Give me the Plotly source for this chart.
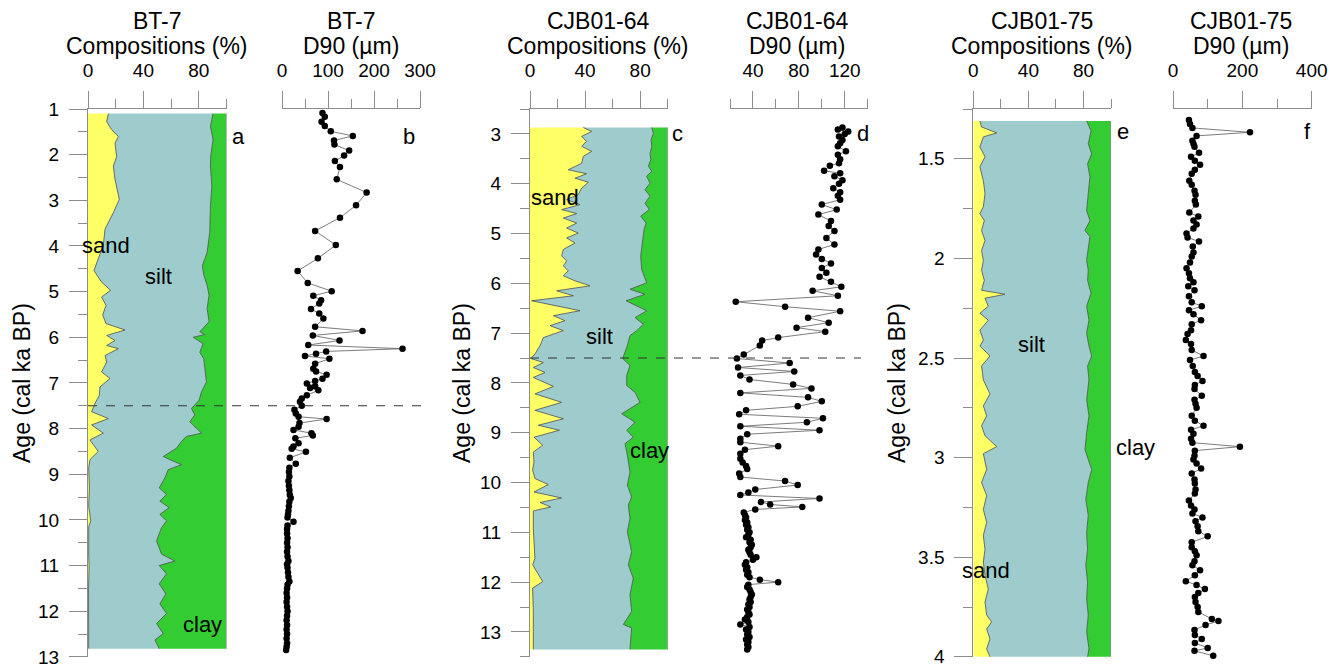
import plotly.graph_objects as go

# ---------------- DATA ----------------
# BT-7 composition: sand (%) boundary and cumulative sand+silt (%) boundary
bt7_sand_age = [1.1, 1.28, 1.45, 1.6, 1.75, 2.04, 2.25, 2.54, 2.98, 3.27, 3.63, 3.99, 4.28, 4.54, 4.79,
                4.97, 5.12, 5.3, 5.51, 5.7, 5.84, 5.96, 6.07, 6.18, 6.25, 6.4, 6.54, 6.76, 6.9, 7.09,
                7.27, 7.45, 7.63, 7.78, 7.92, 8.1, 8.25, 8.36, 8.5, 8.68, 8.86, 9.3, 9.7, 10.02, 10.15,
                10.8, 11.0, 11.5, 12.0, 12.3, 12.5, 12.82]
bt7_sand = [14.7, 13.5, 17, 21.9, 19.5, 20.7, 18.3, 19.5, 22.6, 18.3, 12.3, 11, 7.4, 4.3, 9.8,
            16.3, 9.8, 13, 10.6, 13, 26.7, 13.5, 19.5, 13.5, 21.9, 12.3, 13.5, 9.8, 15.9, 8.6,
            8.2, 5, 2.6, 14.7, 2.6, 11, 1.4, 3.8, 7.4, 1.4, 0.5, 1.0, 0.5, 2.0, 0.5,
            0.5, 0.8, 0.4, 0.5, 0.9, 0.5, 0.5]
bt7_cum_age = [1.1, 1.38, 1.67, 2.04, 2.25, 2.69, 3.12, 3.7, 4.14, 4.43, 4.64, 4.86, 5.08, 5.37, 5.66,
               5.88, 5.94, 6.0, 6.14, 6.33, 6.47, 6.69, 6.98, 7.2, 7.38, 7.56, 7.7, 7.85, 7.99, 8.1,
               8.17, 8.28, 8.43, 8.61, 8.68, 8.79, 8.9, 9.08, 9.3, 9.44, 9.59, 9.73, 9.88, 10.02,
               10.17, 10.46, 10.75, 10.9, 11.0, 11.18, 11.4, 11.62, 11.84, 12.05, 12.27, 12.49,
               12.63, 12.82]
bt7_sand_silt = [90.3, 88.4, 90.3, 88.6, 88.4, 89.4, 88.4, 87.9, 86, 82.6, 83.6, 86, 87.4, 86, 87.4,
                 80.7, 84.3, 75.9, 83.1, 80.7, 83.6, 84.3, 85.5, 81.9, 80.2, 74.7, 77.1, 73.5, 77.8, 81.9,
                 71.1, 67.5, 63.9, 54.3, 59.1, 67.5, 57.9, 55.5, 51.4, 56.7, 51.9, 58.6, 51.9, 56.7,
                 53.1, 49.5, 53.1, 62.7, 51.4, 56.7, 51.4, 56.2, 51.9, 56.7, 49.5, 54.3,
                 48.3, 51.4]
# BT-7 D90 (um)
bt7_d90_age = [1.09, 1.17, 1.28, 1.37, 1.49, 1.59, 1.69, 1.78, 1.91, 2.02, 2.14, 2.27, 2.54, 2.83, 3.11,
               3.38, 3.67, 3.98, 4.27, 4.55, 4.81, 4.99, 5.09, 5.19, 5.26, 5.38, 5.48, 5.59, 5.77, 5.86,
               5.96, 6.07, 6.17, 6.25, 6.31, 6.36, 6.41, 6.47, 6.58, 6.69, 6.75, 6.82, 6.91, 6.96, 7.01,
               7.07, 7.11, 7.16, 7.27, 7.34, 7.41, 7.5, 7.59, 7.67, 7.74, 7.79, 7.88, 7.96, 8.03, 8.1,
               8.15, 8.21, 8.32, 8.39, 8.44, 8.51, 8.64, 8.77, 8.86, 8.95, 9.05, 9.15, 9.25, 9.35, 9.45,
               9.52, 9.6, 9.7, 9.8, 9.88, 9.95, 10.04, 10.12, 10.2, 10.3, 10.4, 10.5, 10.6, 10.7, 10.8,
               10.9, 10.97, 11.05, 11.15, 11.25, 11.35, 11.42, 11.5, 11.6, 11.7, 11.8, 11.9, 12.0, 12.1,
               12.2, 12.3, 12.4, 12.5, 12.6, 12.7, 12.78, 12.85]
bt7_d90 = [88, 93, 86, 93, 106, 154, 113, 114, 146, 135, 115, 126, 119, 184, 161,
           126, 72, 117, 78, 34, 56, 108, 68, 85, 81, 63, 81, 90, 72, 175,
           67, 125, 57, 262, 96, 74, 50, 103, 72, 68, 74, 97, 88, 72, 54,
           72, 61, 79, 54, 43, 39, 43, 27, 30, 36, 97, 38, 36, 25, 64,
           67, 29, 36, 25, 21, 52, 17, 30, 16, 15, 16, 14, 15, 16, 17,
           19, 16, 15, 14, 13, 12, 25, 12, 11, 11, 12, 11, 12, 11, 12,
           14, 11, 12, 13, 14, 16, 12, 11, 10, 11, 10, 11, 12, 11,
           10, 11, 10, 11, 10, 11, 10, 9]

# CJB01-64 composition
c64_sand_age = [2.87, 2.95, 3.05, 3.15, 3.25, 3.35, 3.45, 3.59, 3.72, 3.8, 3.89, 3.97, 4.09, 4.22, 4.32,
                4.42, 4.52, 4.6, 4.69, 4.79, 4.89, 4.99, 5.09, 5.19, 5.32, 5.45, 5.55, 5.65, 5.75, 5.85,
                5.95, 6.05, 6.15, 6.25, 6.35, 6.45, 6.55, 6.65, 6.75, 6.85, 6.95, 7.09, 7.25, 7.42, 7.51,
                7.59, 7.69, 7.79, 7.89, 8.07, 8.22, 8.39, 8.55, 8.72, 8.85, 8.95, 9.09, 9.25, 9.39, 9.59,
                9.75, 9.92, 10.04, 10.19, 10.31, 10.4, 10.49, 10.57, 10.92, 11.52, 11.65, 11.99, 12.12,
                12.59, 13.35]
c64_sand = [38.7, 44.8, 37.5, 41, 37.5, 44.8, 38.7, 37.5, 27.8, 41, 32.7, 42.4, 37.5, 35, 26.6,
            36.3, 23, 33.9, 24.2, 33.9, 26.6, 35, 26.6, 32.7, 24.2, 23, 26.6, 24.2, 27.8, 24.2,
            32.7, 43.6, 19.4, 31.5, 1.2, 19.4, 36.3, 17, 25.4, 14.5, 24.2, 9.7, 7.3, 3.6, 0.5,
            9.7, 2.4, 10.9, 2.4, 17, 3.6, 23, 3.6, 24.2, 6, 21.3, 2.9, 9.2, 2.4, 2.9,
            1.9, 3.6, 13.3, 2.9, 23, 7.3, 15, 2.4, 2.4, 3.6, 1.9, 9.2, 1.9,
            2.4, 2.4]
c64_cum_age = [2.87, 2.99, 3.12, 3.25, 3.39, 3.52, 3.65, 3.75, 3.85, 3.99, 4.12, 4.25, 4.39, 4.52, 4.65,
               4.79, 4.92, 5.19, 5.45, 5.72, 5.99, 6.12, 6.22, 6.35, 6.45, 6.55, 6.69, 6.82, 6.95, 7.05,
               7.25, 7.51, 7.65, 7.85, 8.05, 8.19, 8.39, 8.62, 8.79, 8.95, 9.09, 9.22, 9.45, 9.79, 10.05,
               10.29, 10.45, 10.72, 10.99, 11.39, 11.65, 11.92, 12.25, 12.59, 12.85, 12.92, 13.35]
c64_sand_silt = [88.4, 89.6, 87.9, 88.4, 87.2, 87.7, 86, 88.4, 84.7, 87.2, 83.5, 87.2, 83.5, 86.7, 80.4,
                 84.3, 82.8, 81.8, 80.4, 81.1, 84.7, 72.6, 83.5, 69.7, 77.5, 84.7, 76.3, 82.3, 77.5, 72.6,
                 70.7, 67.3, 72.6, 70.2, 70.2, 76.3, 79.9, 66.6, 76.3, 70.2, 75, 69, 70.7, 72.6, 70.7,
                 73.8, 71.4, 72.6, 70.7, 73.8, 71.4, 75, 72.6, 73.8, 67.8, 73.8, 72.6]
# CJB01-64 D90 (um)
c64_d90_age = [2.87, 2.91, 2.95, 3.0, 3.05, 3.12, 3.19, 3.25, 3.35, 3.42, 3.51, 3.59, 3.64, 3.74, 3.79,
               3.85, 3.93, 4.0, 4.09, 4.17, 4.24, 4.32, 4.42, 4.52, 4.62, 4.75, 4.85, 4.95, 5.09, 5.22,
               5.32, 5.42, 5.51, 5.6, 5.69, 5.79, 5.87, 5.97, 6.07, 6.15, 6.25, 6.37, 6.47, 6.56, 6.69,
               6.79, 6.89, 6.97, 7.09, 7.15, 7.25, 7.43, 7.51, 7.6, 7.69, 7.77, 7.85, 7.93, 8.03, 8.11,
               8.2, 8.29, 8.37, 8.47, 8.55, 8.63, 8.71, 8.79, 8.87, 8.95, 9.03, 9.12, 9.19, 9.27, 9.34,
               9.42, 9.52, 9.6, 9.67, 9.73, 9.82, 9.89, 9.97, 10.05, 10.14, 10.2, 10.25, 10.32, 10.39,
               10.44, 10.49, 10.54, 10.6, 10.65, 10.7, 10.75, 10.8, 10.85, 10.9, 10.95, 11.0, 11.05,
               11.1, 11.15, 11.2, 11.25, 11.3, 11.35, 11.4, 11.45, 11.5, 11.55, 11.6, 11.65, 11.7,
               11.75, 11.8, 11.85, 11.9, 11.95, 12.0, 12.05, 12.1, 12.15, 12.2, 12.25, 12.3, 12.35,
               12.4, 12.45, 12.5, 12.55, 12.6, 12.65, 12.7, 12.75, 12.8, 12.85, 12.9, 12.95, 13.0,
               13.05, 13.1, 13.15, 13.2, 13.25, 13.3, 13.35]
c64_d90 = [118, 114, 123, 120, 115, 118, 116, 114, 121, 114, 116, 115, 107, 102, 116,
           111, 118, 115, 110, 116, 114, 116, 100, 113, 97, 108, 106, 111, 104, 111,
           97, 95, 100, 108, 100, 104, 98, 108, 117, 92, 114, 25, 68, 116, 88,
           106, 78, 103, 62, 48, 46, 32, 26, 72, 27, 76, 29, 37, 75, 91,
           29, 88, 100, 79, 34, 28, 101, 87, 29, 98, 35, 29, 29, 62, 33,
           29, 29, 31, 34, 35, 28, 29, 68, 79, 42, 36, 29, 98, 47,
           55, 83, 42, 32, 33, 34, 33, 35, 34, 36, 35, 37, 36,
           34, 38, 37, 39, 38, 36, 37, 38, 43, 40, 34, 33, 35,
           34, 36, 35, 37, 46, 62, 36, 35, 37, 38, 39, 38, 37,
           38, 36, 37, 35, 36, 37, 35, 33, 36, 29, 37, 34, 36,
           35, 37, 34, 36, 35, 36, 35]

# CJB01-75 composition
c75_sand_age = [1.31, 1.34, 1.37, 1.39, 1.44, 1.49, 1.54, 1.61, 1.675, 1.74, 1.775, 1.81, 1.86, 1.91,
                1.96, 2.01, 2.06, 2.11, 2.16, 2.18, 2.2, 2.24, 2.275, 2.31, 2.36, 2.41, 2.44, 2.49,
                2.54, 2.61, 2.68, 2.74, 2.79, 2.84, 2.89, 2.945, 2.98, 3.06, 3.125, 3.19, 3.26, 3.325,
                3.39, 3.46, 3.525, 3.59, 3.66, 3.725, 3.79, 3.825, 3.86, 3.91, 3.96, 4.0]
c75_sand = [4.8, 6, 17, 7.3, 4.8, 8.5, 4.8, 7.3, 8.5, 7.3, 4.8, 8, 6, 8.5,
            6, 7.3, 6, 8, 6, 23, 8.5, 10.9, 4.8, 10.9, 4.8, 7.3, 4.8, 12.1,
            6, 7.3, 12.1, 7.3, 9.7, 6, 8.5, 17, 7.3, 9.7, 6, 9.7, 7.3, 9.7,
            7.3, 8.5, 7.3, 8.5, 10.9, 8.5, 9.7, 13.3, 9.7, 12.1, 9.7, 12.1]
c75_cum_age = [1.31, 1.36, 1.425, 1.475, 1.525, 1.59, 1.675, 1.76, 1.81, 1.86, 1.89, 1.94, 2.01, 2.06,
               2.11, 2.175, 2.24, 2.31, 2.375, 2.44, 2.49, 2.54, 2.61, 2.71, 2.79, 2.875, 2.96, 3.06,
               3.125, 3.21, 3.29, 3.375, 3.46, 3.54, 3.625, 3.71, 3.79, 3.875, 3.96, 4.0]
c75_sand_silt = [82.3, 85.5, 83.5, 86, 83, 84.7, 83.5, 82.3, 84.7, 81.1, 84.7, 83.5, 82.3, 83.5,
                 83, 85.5, 82.3, 84, 82.3, 84, 86, 83, 84, 82.3, 84, 82.3, 81.1, 86,
                 83.5, 81.7, 83.5, 82.3, 83, 81.7, 83, 82.3, 83.5, 82.3, 84, 83]
# CJB01-75 D90 (um)
c75_d90_age = [1.305, 1.325, 1.345, 1.367, 1.385, 1.41, 1.425, 1.44, 1.47, 1.49, 1.51, 1.53, 1.555,
               1.575, 1.61, 1.63, 1.66, 1.68, 1.71, 1.73, 1.77, 1.79, 1.81, 1.83, 1.85, 1.875, 1.895,
               1.915, 1.94, 1.97, 1.99, 2.02, 2.05, 2.075, 2.1, 2.12, 2.14, 2.16, 2.19, 2.22, 2.24,
               2.26, 2.28, 2.31, 2.33, 2.36, 2.38, 2.41, 2.43, 2.46, 2.49, 2.51, 2.54, 2.57, 2.59,
               2.615, 2.635, 2.655, 2.69, 2.71, 2.73, 2.75, 2.79, 2.815, 2.84, 2.86, 2.88, 2.905,
               2.925, 2.945, 2.965, 2.99, 3.01, 3.03, 3.055, 3.08, 3.11, 3.13, 3.16, 3.18, 3.215,
               3.24, 3.26, 3.28, 3.3, 3.32, 3.345, 3.37, 3.395, 3.425, 3.45, 3.47, 3.49, 3.52, 3.54,
               3.565, 3.59, 3.62, 3.64, 3.66, 3.68, 3.7, 3.725, 3.75, 3.775, 3.81, 3.82, 3.84, 3.865,
               3.89, 3.91, 3.93, 3.955, 3.97, 3.995]
c75_d90 = [46, 49, 56, 222, 68, 56, 59, 62, 75, 52, 63, 78, 63,
           54, 47, 54, 62, 65, 63, 66, 47, 73, 59, 68, 59, 39, 42,
           75, 57, 59, 54, 49, 39, 46, 49, 59, 44, 62, 46, 54, 83,
           46, 59, 81, 54, 52, 42, 37, 52, 54, 88, 49, 57, 63, 71,
           85, 63, 62, 83, 62, 65, 68, 54, 63, 88, 52, 59, 52,
           56, 193, 63, 62, 59, 68, 81, 54, 62, 63, 65, 63, 46,
           52, 62, 56, 85, 65, 71, 73, 100, 54, 54, 63, 68, 62, 56,
           78, 63, 37, 68, 92, 73, 63, 65, 71, 73, 112, 131, 94, 62,
           63, 83, 63, 100, 62, 116]

# ---------------- STYLE ----------------
W, H = 1340, 669
FONT = "Arial, Liberation Sans, sans-serif"
SAND_C = "#FFFF66"
SILT_C = "#9ECCCC"
CLAY_C = "#33CC33"
EDGE = "#4d4d4d"
AX = "#8c8c8c"

def px(x):
    return x / W

def py(y):
    return 1 - y / H

Y_DOM = [py(657), py(109)]

fig = go.Figure()


def comp(xa, ya, s_age, s_val, c_age, c_val):
    fig.add_trace(go.Scatter(x=s_val, y=s_age, xaxis=xa, yaxis=ya, mode="lines",
                             line=dict(color=EDGE, width=0.8), fill="tozerox",
                             fillcolor=SAND_C, hoverinfo="skip"))
    fig.add_trace(go.Scatter(x=c_val, y=c_age, xaxis=xa, yaxis=ya, mode="lines",
                             line=dict(color=EDGE, width=0.8), fill="tonextx",
                             fillcolor=SILT_C, hoverinfo="skip"))
    fig.add_trace(go.Scatter(x=[100, 100], y=[c_age[0], c_age[-1]], xaxis=xa, yaxis=ya,
                             mode="lines", line=dict(color="#8a8a8a", width=1.2),
                             fill="tonextx", fillcolor=CLAY_C, hoverinfo="skip"))


def d90(xa, ya, age, val):
    fig.add_trace(go.Scatter(x=val, y=age, xaxis=xa, yaxis=ya, mode="lines+markers",
                             line=dict(color="#5a5a5a", width=0.8),
                             marker=dict(color="black", size=6.5), cliponaxis=False))


comp("x", "y", bt7_sand_age, bt7_sand, bt7_cum_age, bt7_sand_silt)
d90("x2", "y", bt7_d90_age, bt7_d90)
comp("x3", "y2", c64_sand_age, c64_sand, c64_cum_age, c64_sand_silt)
d90("x4", "y2", c64_d90_age, c64_d90)
comp("x5", "y3", c75_sand_age, c75_sand, c75_cum_age, c75_sand_silt)
d90("x6", "y3", c75_d90_age, c75_d90)

tickfont = dict(family=FONT, size=19, color="black")


def xax(dom, rng, tv, mv, anchor):
    return dict(domain=[px(dom[0]), px(dom[1])], range=rng, side="top", anchor=anchor,
                showline=True, linecolor=AX, linewidth=1, ticks="outside", ticklen=17,
                tickcolor=AX, tickwidth=1, tickvals=tv, ticktext=[str(v) for v in tv],
                minor=dict(tickvals=mv, ticklen=9, tickcolor=AX, ticks="outside"),
                showgrid=False, zeroline=False, tickfont=tickfont, ticklabelstandoff=6,
                ticklabeloverflow="allow", automargin=False, fixedrange=True)


def yax(rng, tv, mv, anchor, labels):
    return dict(domain=Y_DOM, range=rng, anchor=anchor, showline=True, linecolor=AX,
                linewidth=1, ticks="outside", ticklen=18, tickcolor=AX, tickwidth=1,
                tickvals=tv, ticktext=labels,
                minor=dict(tickvals=mv, ticklen=9, tickcolor=AX, ticks="outside"),
                showgrid=False, zeroline=False, tickfont=tickfont, ticklabelstandoff=6,
                ticklabeloverflow="allow", automargin=False, fixedrange=True)


ya_t = list(range(1, 14))
ya_m = [i + 0.5 for i in range(1, 13)]
yc_t = list(range(3, 14))
yc_m = [2.5 + i for i in range(12)]
ye_t = [1.5, 2, 2.5, 3, 3.5, 4]
ye_m = [1.25, 1.75, 2.25, 2.75, 3.25, 3.75]

fig.update_layout(
    width=W, height=H, autosize=False, margin=dict(l=0, r=0, t=0, b=0, pad=0),
    paper_bgcolor="white", plot_bgcolor="rgba(0,0,0,0)", showlegend=False,
    font=dict(family=FONT, color="black"),
    xaxis=xax((88, 226.5), [0, 100], [0, 40, 80], [20, 60, 100], "y"),
    xaxis2=xax((282, 420), [0, 300], [0, 100, 200, 300], [50, 150, 250], "y"),
    xaxis3=xax((530, 667.7), [0, 100], [0, 40, 80], [20, 60, 100], "y2"),
    xaxis4=xax((730, 867.7), [20, 140], [40, 80, 120], [20, 60, 100, 140], "y2"),
    xaxis5=xax((973.3, 1111), [0, 100], [0, 40, 80], [20, 60, 100], "y3"),
    xaxis6=xax((1173, 1311.7), [0, 400], [0, 200, 400], [100, 300], "y3"),
    yaxis=yax([13.003, 1], ya_t, ya_m, "x", [str(v) for v in ya_t]),
    yaxis2=yax([13.503, 2.5], yc_t, yc_m, "x3", [str(v) for v in yc_t]),
    yaxis3=yax([4.0008, 1.25], ye_t, ye_m, "x5", ["1.5", "2", "2.5", "3", "3.5", "4"]),
)

# dashed lines at 7.5 ka
fig.add_shape(type="line", xref="paper", yref="y", x0=px(88), x1=px(422), y0=7.5, y1=7.5,
              line=dict(color="#333333", width=1, dash="dash"))
fig.add_shape(type="line", xref="paper", yref="y2", x0=px(530), x1=px(861), y0=7.5, y1=7.5,
              line=dict(color="#333333", width=1, dash="dash"))

ann = []


def txt(x, y, t, size=22, angle=0):
    ann.append(dict(x=px(x), y=py(y), xref="paper", yref="paper", text=t, showarrow=False,
                    xanchor="center", yanchor="middle", textangle=angle,
                    font=dict(family=FONT, size=size, color="black")))


# panel titles
for cx, l1, l2 in [(157, "BT-7", "Compositions (%)"), (351, "BT-7", "D90 (µm)"),
                   (598, "CJB01-64", "Compositions (%)"), (797, "CJB01-64", "D90 (µm)"),
                   (1042, "CJB01-75", "Compositions (%)"), (1241, "CJB01-75", "D90 (µm)")]:
    txt(cx, 21, l1, size=23)
    txt(cx, 46, l2, size=23)

# y titles
for cx in (22, 462, 897):
    txt(cx, 383, "Age (cal ka BP)", size=23, angle=-90)

# panel letters
for cx, cy, t in [(238, 137, "a"), (409, 137, "b"), (678, 133, "c"), (862.7, 133, "d"),
                  (1123, 131, "e"), (1307, 131, "f")]:
    txt(cx, cy, t)

# component labels
for cx, cy, t in [(106, 245, "sand"), (158, 277, "silt"), (202, 624, "clay"),
                  (555, 197, "sand"), (599, 336, "silt"), (649, 450, "clay"),
                  (1031, 344, "silt"), (1135, 447, "clay"), (986, 570, "sand")]:
    txt(cx, cy, t)

fig.update_layout(annotations=ann)

fig.write_html("out.html", config={"displayModeBar": False},
               post_script="document.body.style.margin='0';document.body.style.overflow='hidden';")
